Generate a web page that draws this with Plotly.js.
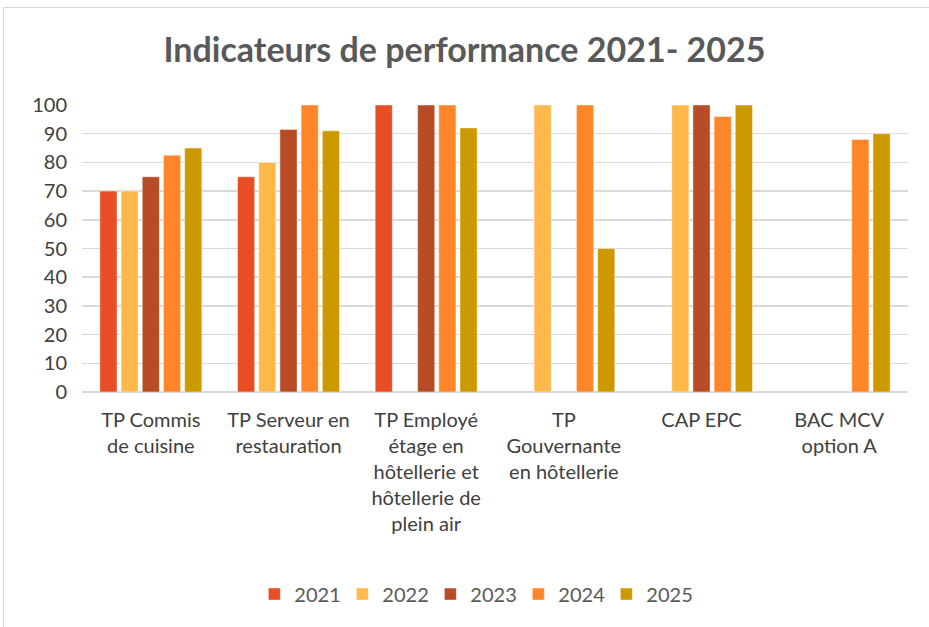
<!DOCTYPE html>
<html>
<head>
<meta charset="utf-8">
<script src="https://cdn.plot.ly/plotly-3.0.1.min.js"></script>
<style>
html,body{margin:0;padding:0;background:#fff;}
#frame{position:absolute;left:3px;top:7px;width:930px;height:630px;border:1px solid #d9d9d9;box-sizing:border-box;}
#chart{position:absolute;left:0;top:0;width:929px;height:627px;}
</style>
</head>
<body>
<div id="frame"></div>
<div id="chart"></div>
<script>
const categories = [
  "TP Commis<br>de cuisine",
  "TP Serveur en<br>restauration",
  "TP Employé<br>étage en<br>hôtellerie et<br>hôtellerie de<br>plein air",
  "TP<br>Gouvernante<br>en hôtellerie",
  "CAP EPC",
  "BAC MCV<br>option A"
];
const years = ["2021", "2022", "2023", "2024", "2025"];
const v2021 = [70, 75, 100, null, null, null];
const v2022 = [70, 80, null, 100, 100, null];
const v2023 = [75, 91.5, 100, null, 100, null];
const v2024 = [82.5, 100, 100, 100, 96, 88];
const v2025 = [85, 91, 92, 50, 100, 90];
const seriesValues = [v2021, v2022, v2023, v2024, v2025];
const colors = ["#E84E24", "#FFB94A", "#B84C27", "#FF8628", "#CC9900"];

const traces = years.map((y, i) => ({
  type: "bar",
  name: y,
  x: categories,
  y: seriesValues[i],
  marker: {color: colors[i], line: {color: "rgba(255,255,255,0.45)", width: 1}},
  hoverinfo: "x+y+name"
}));

const layout = {
  width: 929, height: 627,
  paper_bgcolor: "rgba(0,0,0,0)", plot_bgcolor: "rgba(0,0,0,0)",
  margin: {l: 82, r: 21, t: 105, b: 235},
  title: {text: "<b>Indicateurs de performance 2021- 2025</b>", x: 0.5, xanchor: "center", y: 0.92, yanchor: "middle",
          font: {family: "Lato, 'Open Sans', sans-serif", size: 34, color: "#595959"}},
  barmode: "group", bargap: 0.23, bargroupgap: 0.19,
  font: {family: "Lato, 'Open Sans', sans-serif", size: 20, color: "#404040"},
  xaxis: {showgrid: false, showline: false, zeroline: false, ticks: "", tickangle: 0,
          tickfont: {size: 20, color: "#404040"}, ticklabelstandoff: 14},
  yaxis: {range: [0, 100], dtick: 10, showgrid: true, gridcolor: "#d9d9d9", gridwidth: 1.5,
          zeroline: true, zerolinecolor: "#d9d9d9", zerolinewidth: 1.5, showline: false, ticks: "",
          tickfont: {size: 20, color: "#404040"}, ticklabelstandoff: 14},
  legend: {orientation: "h", x: 0.475, xanchor: "center", y: -0.704, yanchor: "middle",
           entrywidth: 43, entrywidthmode: "pixels", itemwidth: 30,
           font: {size: 20, color: "#595959"}, traceorder: "normal"},
  showlegend: true
};

Plotly.newPlot("chart", traces, layout, {displayModeBar: false, staticPlot: true});
</script>
</body>
</html>
